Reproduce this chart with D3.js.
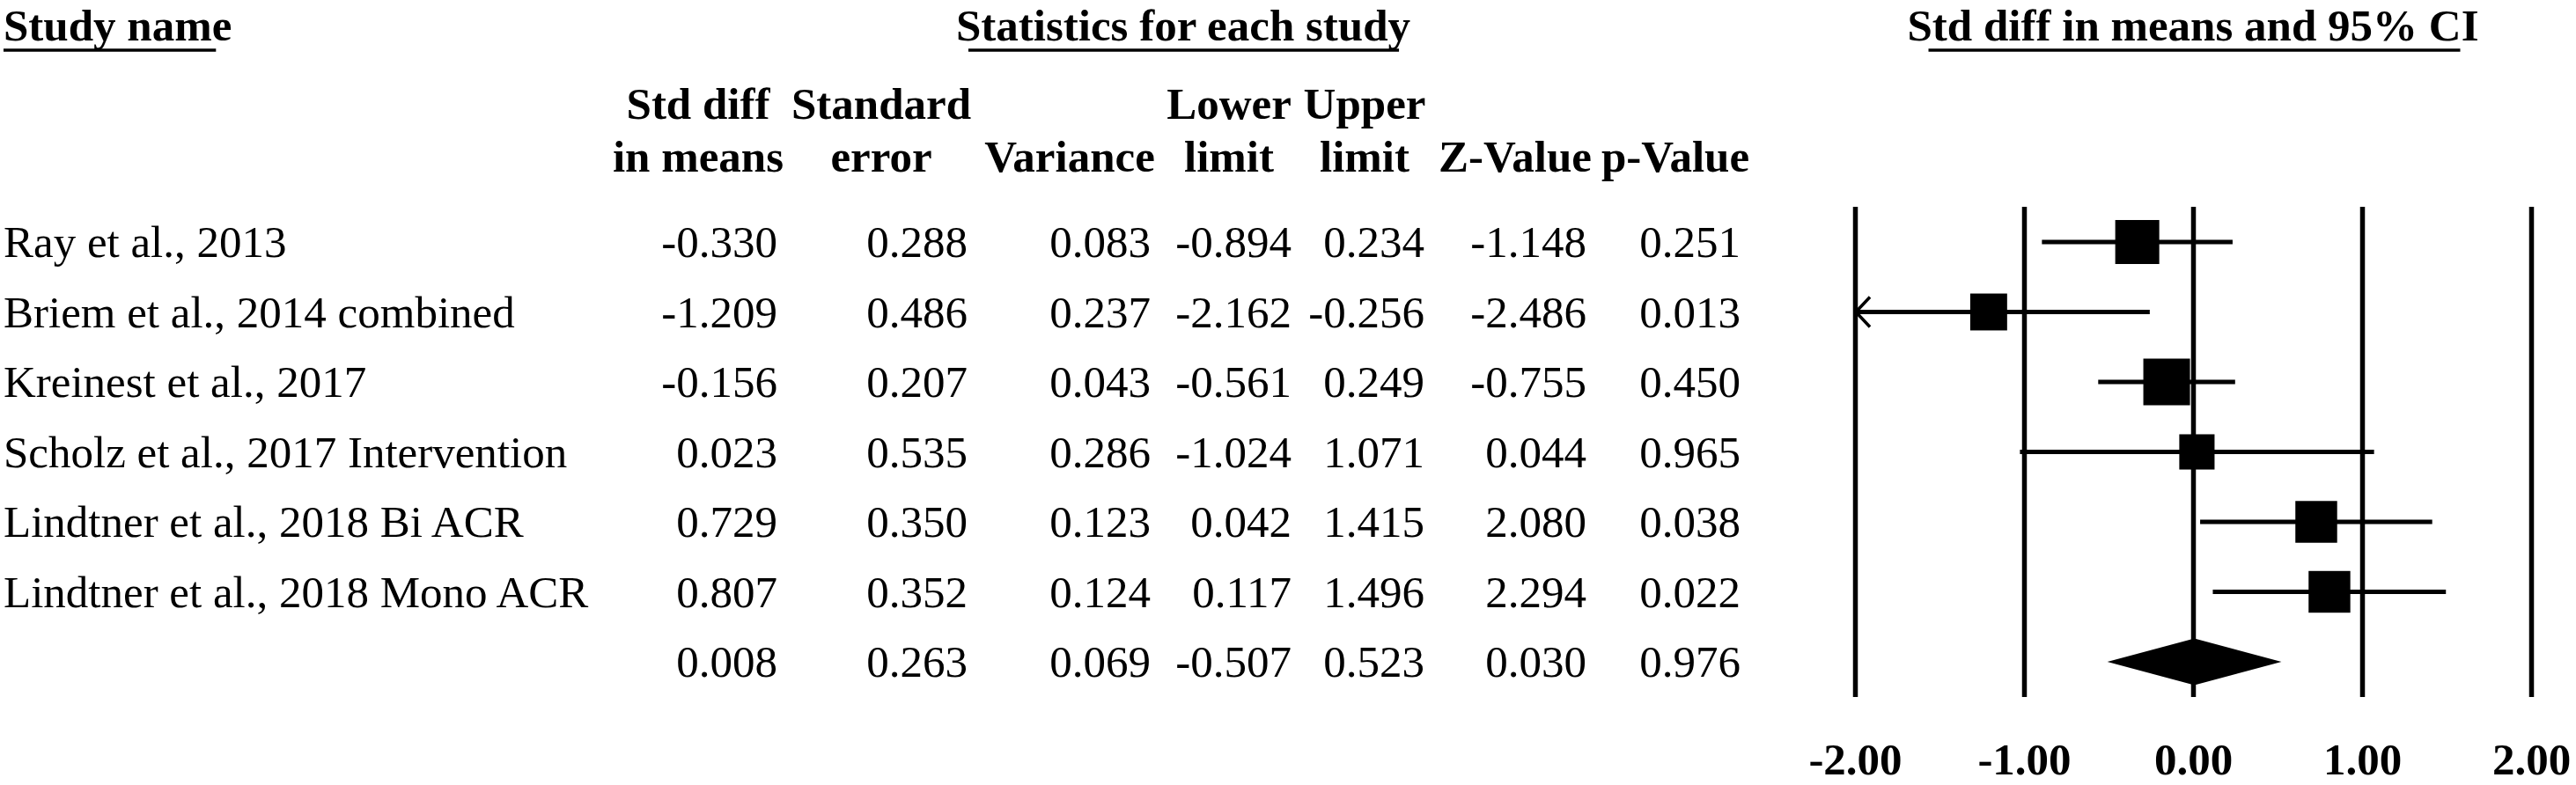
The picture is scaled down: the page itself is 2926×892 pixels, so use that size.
<!DOCTYPE html>
<html>
<head>
<meta charset="utf-8">
<script src="https://cdn.jsdelivr.net/npm/d3@7"></script>
<style>
  html, body { margin: 0; padding: 0; background: #fff; }
  svg { display: block; }
  text { font-family: "Liberation Serif", "Times New Roman", serif; fill: #000; }
</style>
</head>
<body>
<script>
// ---------------- data ----------------
const studies = [
  "Ray et al., 2013",
  "Briem et al., 2014 combined",
  "Kreinest et al., 2017",
  "Scholz et al., 2017 Intervention",
  "Lindtner et al., 2018 Bi ACR",
  "Lindtner et al., 2018 Mono ACR"
];
const stdDiff  = [-0.330, -1.209, -0.156, 0.023, 0.729, 0.807];
const stdErr   = [0.288, 0.486, 0.207, 0.535, 0.350, 0.352];
const variance = [0.083, 0.237, 0.043, 0.286, 0.123, 0.124];
const lowerLim = [-0.894, -2.162, -0.561, -1.024, 0.042, 0.117];
const upperLim = [0.234, -0.256, 0.249, 1.071, 1.415, 1.496];
const zValue   = [-1.148, -2.486, -0.755, 0.044, 2.080, 2.294];
const pValue   = [0.251, 0.013, 0.450, 0.965, 0.038, 0.022];
// summary (random effects): std diff, SE, variance, lower, upper, Z, p
const summaryStats = [0.008, 0.263, 0.069, -0.507, 0.523, 0.030, 0.976];
const headerLine1 = ["Std diff", "Standard", "", "Lower", "Upper", "", ""];
const headerLine2 = ["in means", "error", "Variance", "limit", "limit", "Z-Value", "p-Value"];
const titles = ["Study name", "Statistics for each study", "Std diff in means and 95% CI"];
const tickValues = [-2, -1, 0, 1, 2];

// ---------------- layout ----------------
const W = 2926, H = 892;
const FS = 51;
const colRight  = [883, 1099, 1307, 1467, 1618, 1802, 1977];
const colCenter = [793, 1001, 1215, 1396, 1550, 1721, 1903];

const svg = d3.select("body").append("svg").attr("width", W).attr("height", H);
svg.append("rect").attr("width", W).attr("height", H).attr("fill", "#fff");

const x = d3.scaleLinear().domain([-2, 2]).range([2107, 2875]);
const nRows = studies.length + 1;
const y = d3.scaleLinear().domain([0, nRows - 1]).range([275, 752]);
const gridTop = 235, gridBottom = 792;

// random-effects weights (DerSimonian-Laird) for box sizes
const wF = variance.map(v => 1 / v);
const sW = d3.sum(wF);
const mF = d3.sum(stdDiff.map((d, i) => d * wF[i])) / sW;
const Q = d3.sum(stdDiff.map((d, i) => wF[i] * (d - mF) ** 2));
const C = sW - d3.sum(wF.map(w => w * w)) / sW;
const tau2 = Math.max(0, (Q - (studies.length - 1)) / C);
const wR = variance.map(v => 1 / (v + tau2));
const boxSize = d3.scaleSqrt().domain([0, d3.max(wR)]).range([0, 53]);

// ---------------- titles ----------------
const titleX = [4, 1344, x(0)];
const titleAnchor = ["start", "middle", "middle"];
const ulInset = [[0, 18], [14, 13], [24, 21]];
const titleBase = 46;
titles.forEach((t, i) => {
  const tx = svg.append("text")
    .attr("x", titleX[i]).attr("y", titleBase)
    .attr("text-anchor", titleAnchor[i])
    .style("font-size", FS + "px").style("font-weight", "bold")
    .text(t);
  const bb = tx.node().getBBox();
  svg.append("line")
    .attr("x1", bb.x + ulInset[i][0]).attr("x2", bb.x + bb.width - ulInset[i][1])
    .attr("y1", titleBase + 11).attr("y2", titleBase + 11)
    .attr("stroke", "#000").attr("stroke-width", 3.5);
});

// ---------------- column headers ----------------
const hdr = svg.append("g").style("font-size", FS + "px").style("font-weight", "bold")
  .attr("text-anchor", "middle");
hdr.selectAll("text.h1").data(headerLine1).join("text").attr("class", "h1")
  .attr("x", (d, i) => colCenter[i]).attr("y", 135).text(d => d);
hdr.selectAll("text.h2").data(headerLine2).join("text").attr("class", "h2")
  .attr("x", (d, i) => colCenter[i]).attr("y", 195).text(d => d);

// ---------------- table body ----------------
const fmt = d3.format(".3f");
const fmtNum = v => fmt(v).replace("−", "-");
const rows = studies.map((s, i) => ({
  name: s, idx: i,
  vals: [stdDiff[i], stdErr[i], variance[i], lowerLim[i], upperLim[i], zValue[i], pValue[i]]
}));
rows.push({ name: "", idx: studies.length, vals: summaryStats });

const body = svg.append("g").style("font-size", FS + "px");
const rowG = body.selectAll("g.row").data(rows).join("g").attr("class", "row")
  .attr("transform", d => `translate(0,${y(d.idx) + 17})`);
rowG.append("text").attr("x", 4).text(d => d.name);
rowG.selectAll("text.val").data(d => d.vals).join("text").attr("class", "val")
  .attr("x", (d, i) => colRight[i]).attr("text-anchor", "end")
  .text(d => fmtNum(d));

// ---------------- forest plot ----------------
const axis = d3.axisBottom(x)
  .tickValues(tickValues)
  .tickFormat(d3.format(".2f"))
  .tickSizeInner(-(gridBottom - gridTop))
  .tickSizeOuter(0);
const ax = svg.append("g").attr("transform", `translate(0,${gridBottom})`).call(axis);
ax.select(".domain").remove();
ax.selectAll(".tick line").attr("stroke", "#000").attr("stroke-width", 5.5);
ax.selectAll(".tick text")
  .attr("y", 88).attr("dy", 0)
  .attr("fill", "#000")
  .style("font-family", '"Liberation Serif", "Times New Roman", serif')
  .style("font-size", FS + "px").style("font-weight", "bold")
  .text(d => d3.format(".2f")(d).replace("−", "-"));

const plot = svg.append("g");
const [dMin, dMax] = x.domain();
const studyData = studies.map((s, i) => ({
  i, est: stdDiff[i], lo: lowerLim[i], hi: upperLim[i], w: wR[i]
}));

// CI lines
plot.selectAll("line.ci").data(studyData).join("line").attr("class", "ci")
  .attr("x1", d => x(Math.max(d.lo, dMin)))
  .attr("x2", d => x(Math.min(d.hi, dMax)))
  .attr("y1", d => y(d.i)).attr("y2", d => y(d.i))
  .attr("stroke", "#000").attr("stroke-width", 5);

// arrows where CI exceeds the axis
plot.selectAll("path.arrowL").data(studyData.filter(d => d.lo < dMin)).join("path")
  .attr("class", "arrowL")
  .attr("d", d => {
    const ax0 = x(dMin), ay = y(d.i);
    return `M${ax0 + 17},${ay - 17}L${ax0 + 1},${ay}L${ax0 + 17},${ay + 17}`;
  })
  .attr("fill", "none").attr("stroke", "#000").attr("stroke-width", 3.5);
plot.selectAll("path.arrowR").data(studyData.filter(d => d.hi > dMax)).join("path")
  .attr("class", "arrowR")
  .attr("d", d => {
    const ax0 = x(dMax), ay = y(d.i);
    return `M${ax0 - 17},${ay - 17}L${ax0 - 1},${ay}L${ax0 - 17},${ay + 17}`;
  })
  .attr("fill", "none").attr("stroke", "#000").attr("stroke-width", 3.5);

// boxes
plot.selectAll("rect.box").data(studyData).join("rect").attr("class", "box")
  .attr("x", d => x(d.est) - boxSize(d.w) / 2)
  .attr("y", d => y(d.i) - boxSize(d.w) / 2)
  .attr("width", d => boxSize(d.w))
  .attr("height", d => boxSize(d.w))
  .attr("fill", "#000");

// summary diamond
const sy = y(studies.length), half = 26.5;
plot.append("path")
  .datum({ est: summaryStats[0], lo: summaryStats[3], hi: summaryStats[4] })
  .attr("d", d => `M${x(d.lo)},${sy}L${x(d.est)},${sy - half}L${x(d.hi)},${sy}L${x(d.est)},${sy + half}Z`)
  .attr("fill", "#000");
</script>
</body>
</html>
